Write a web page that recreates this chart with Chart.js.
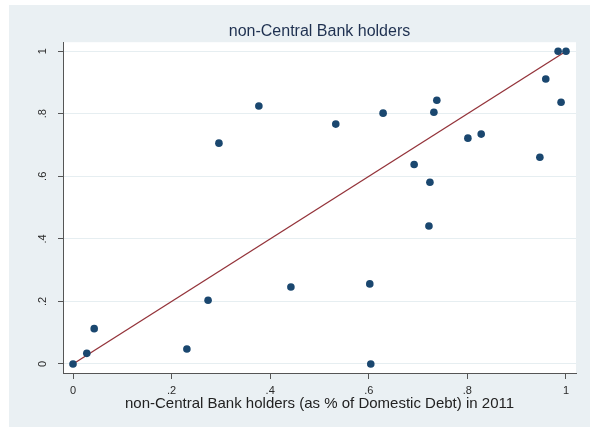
<!DOCTYPE html>
<html>
<head>
<meta charset="utf-8">
<script src="https://cdn.jsdelivr.net/npm/chart.js@4/dist/chart.umd.min.js"></script>
<style>
  html, body { margin: 0; padding: 0; background: #ffffff; }
  #wrap { width: 590px; height: 428px; }
</style>
</head>
<body>
<div id="wrap"><canvas id="c" width="590" height="428"></canvas></div>
<script>
// Share of domestic debt held by non-central-bank holders, one point per country
const holdersShare2011 = [0, 0.028, 0.043, 0.231, 0.274, 0.296, 0.377, 0.442, 0.533, 0.602, 0.604, 0.629,
                          0.692, 0.722, 0.724, 0.732, 0.738, 0.801, 0.828, 0.947, 0.959, 0.984, 0.990, 1.0];
const holdersValue = [0, 0.034, 0.113, 0.048, 0.204, 0.706, 0.825, 0.246, 0.767, 0.256, 0, 0.802,
                      0.638, 0.441, 0.581, 0.805, 0.843, 0.722, 0.735, 0.661, 0.911, 1.0, 0.837, 1.0];

// Reference line endpoints
const lineX = [0, 1];
const lineY = [0, 1];

// Axis ticks and labels
const xTickValues = [0, 0.2, 0.4, 0.6, 0.8, 1];
const xTickLabels = ['0', '.2', '.4', '.6', '.8', '1'];
const yTickValues = [0, 0.2, 0.4, 0.6, 0.8, 1];
const yTickLabels = ['0', '.2', '.4', '.6', '.8', '1'];

const chartTitle = 'non-Central Bank holders';
const xAxisTitle = 'non-Central Bank holders (as % of Domestic Debt) in 2011';

const FONT = '"Liberation Sans", Arial, sans-serif';

// Light graph region with a white plot region on top
const panels = {
  id: 'panels',
  beforeDraw(chart) {
    const { ctx, chartArea } = chart;
    ctx.save();
    ctx.fillStyle = '#ffffff';
    ctx.fillRect(0, 0, chart.width, chart.height);
    ctx.fillStyle = '#eaf0f3';
    ctx.fillRect(9, 5, chart.width - 9, chart.height - 6);
    ctx.fillStyle = '#ffffff';
    ctx.fillRect(chartArea.left, chartArea.top,
                 chartArea.right - chartArea.left, chartArea.bottom - chartArea.top);
    ctx.restore();
  }
};

const scatterPoints = holdersShare2011.map((x, i) => ({ x, y: holdersValue[i] }));
const linePoints = lineX.map((x, i) => ({ x, y: lineY[i] }));

new Chart(document.getElementById('c'), {
  type: 'scatter',
  data: {
    datasets: [
      {
        label: 'holders',
        data: scatterPoints,
        backgroundColor: '#1a476f',
        borderWidth: 0,
        pointRadius: 3.8,
        pointHoverRadius: 3.8
      },
      {
        type: 'line',
        label: 'fit',
        data: linePoints,
        borderColor: '#94333a',
        borderWidth: 1.3,
        pointRadius: 0,
        fill: false,
        tension: 0
      }
    ]
  },
  options: {
    responsive: false,
    animation: false,
    devicePixelRatio: 1,
    layout: { padding: { top: 0, left: 0, right: 14, bottom: 0 } },
    plugins: {
      legend: { display: false },
      tooltip: { enabled: false },
      title: {
        display: true,
        text: chartTitle,
        fullSize: false,
        color: '#1e3050',
        font: { family: FONT, size: 16, weight: 'normal', lineHeight: 1.2 },
        padding: { top: 22, bottom: 1 }
      }
    },
    scales: {
      x: {
        type: 'linear',
        position: 'bottom',
        min: -0.0203,
        max: 1.0203,
        afterBuildTicks(scale) { scale.ticks = xTickValues.map(v => ({ value: v })); },
        afterFit(scale) { scale.height = 55; },
        ticks: {
          callback: (v, i) => xTickLabels[i],
          color: '#2a2a2a',
          font: { family: FONT, size: 11 },
          padding: 5,
          maxRotation: 0,
          autoSkip: false
        },
        grid: {
          drawOnChartArea: false,
          drawTicks: true,
          tickLength: 6,
          tickColor: '#555555',
          tickWidth: 1
        },
        border: { display: true, color: '#555555', width: 1 },
        title: {
          display: true,
          text: xAxisTitle,
          color: '#222222',
          font: { family: FONT, size: 15, lineHeight: 1.2 },
          padding: { top: 0, bottom: 15 }
        }
      },
      y: {
        type: 'linear',
        min: -0.0288,
        max: 1.0288,
        afterBuildTicks(scale) { scale.ticks = yTickValues.map(v => ({ value: v })); },
        afterFit(scale) { scale.width = 63; },
        ticks: {
          callback: (v, i) => yTickLabels[i],
          color: '#2a2a2a',
          font: { family: FONT, size: 11 },
          padding: 10,
          crossAlign: 'center',
          minRotation: 90,
          maxRotation: 90,
          autoSkip: false
        },
        grid: {
          drawOnChartArea: true,
          color: '#e6eef1',
          lineWidth: 1,
          drawTicks: true,
          tickLength: 5,
          tickColor: '#555555'
        },
        border: { display: true, color: '#555555', width: 1 }
      }
    }
  },
  plugins: [panels]
});
</script>
</body>
</html>
